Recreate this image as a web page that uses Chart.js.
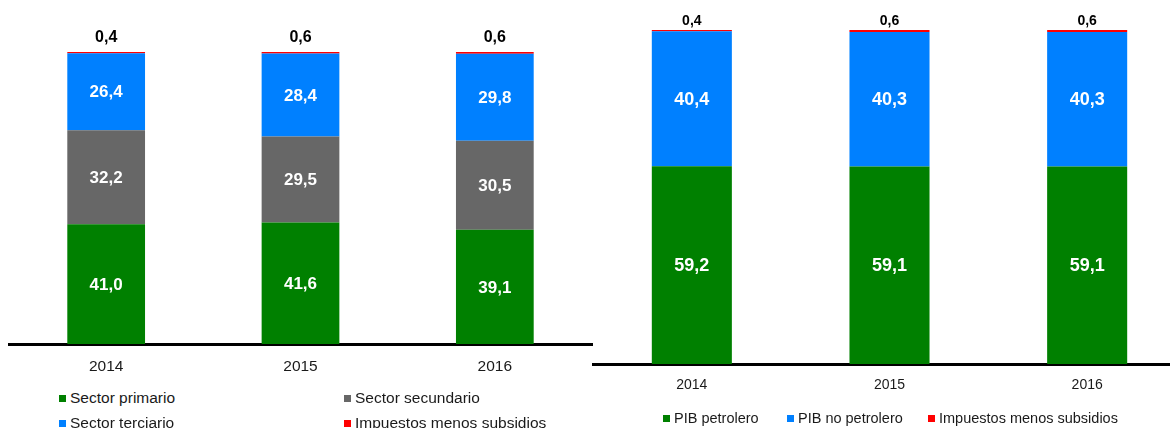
<!DOCTYPE html>
<html><head><meta charset="utf-8">
<script src="https://cdn.jsdelivr.net/npm/chart.js@4.4.1/dist/chart.umd.min.js"></script>
<style>
html,body{margin:0;padding:0;background:#fff;width:1170px;height:428px;overflow:hidden;position:relative;font-family:"Liberation Sans",Arial,sans-serif;}
.box{position:absolute;}
.leg{position:absolute;white-space:nowrap;color:#1a1a1a;line-height:1;}
.leg i{position:absolute;width:7px;height:7px;display:block;}
</style></head><body>
<div class="box" style="left:0;top:0;width:600px;height:380px"><canvas id="c1"></canvas></div>
<div class="box" style="left:585px;top:0;width:610px;height:400px"><canvas id="c2"></canvas></div>
<div id="legs"></div>
<script>
// ---- data ----
const years = ['2014', '2015', '2016'];
const primario = [41.0, 41.6, 39.1];
const secundario = [32.2, 29.5, 30.5];
const terciario = [26.4, 28.4, 29.8];
const impuestosA = [0.4, 0.6, 0.6];
const petrolero = [59.2, 59.1, 59.1];
const noPetrolero = [40.4, 40.3, 40.3];
const impuestosB = [0.4, 0.6, 0.6];
const legendA = ['Sector primario', 'Sector secundario', 'Sector terciario', 'Impuestos menos subsidios'];
const legendB = ['PIB petrolero', 'PIB no petrolero', 'Impuestos menos subsidios'];

const GREEN = '#008000', GRAY = '#676767', BLUE = '#0080FF', RED = '#FF0000';
const FONT = '"Liberation Sans", Arial, sans-serif';

const labelPlugin = {
  id: 'vals',
  afterDatasetsDraw(chart, args, opts) {
    const ctx = chart.ctx;
    const n = chart.data.datasets.length;
    chart.data.datasets.forEach((ds, di) => {
      const meta = chart.getDatasetMeta(di);
      meta.data.forEach((el, i) => {
        const txt = Number(ds.data[i]).toFixed(1).replace('.', ',');
        ctx.save();
        ctx.textAlign = 'center';
        ctx.textBaseline = 'middle';
        if (di === n - 1) {
          ctx.font = opts.topFont; ctx.fillStyle = '#000';
          ctx.fillText(txt, el.x, el.y - opts.topOffset);
        } else {
          ctx.font = opts.inFont; ctx.fillStyle = '#fff';
          ctx.fillText(txt, el.x, (el.y + el.base) / 2 + 1);
        }
        ctx.restore();
      });
    });
  }
};

function makeChart(id, sets, colors, cfg) {
  return new Chart(document.getElementById(id), {
    type: 'bar',
    data: {
      labels: years,
      datasets: sets.map((d, k) => ({
        data: d, backgroundColor: colors[k], borderWidth: 0,
        barPercentage: cfg.barPct, categoryPercentage: 1
      }))
    },
    options: {
      responsive: true, maintainAspectRatio: false, animation: false,
      layout: { padding: cfg.padding },
      plugins: {
        legend: { display: false }, tooltip: { enabled: false },
        vals: { topFont: cfg.topFont, inFont: cfg.inFont, topOffset: cfg.topOffset }
      },
      scales: {
        x: {
          stacked: true,
          grid: { display: false, drawTicks: false },
          border: { display: true, color: '#000', width: 3 },
          ticks: { color: '#1a1a1a', padding: cfg.tickPad, font: { family: FONT, size: cfg.tickSize } },
          afterFit(scale) { scale.height = cfg.axisH; }
        },
        y: { stacked: true, display: false, min: 0, max: 100 }
      }
    },
    plugins: [labelPlugin]
  });
}

makeChart('c1', [primario, secundario, terciario, impuestosA], [GREEN, GRAY, BLUE, RED], {
  barPct: 0.40, padding: { left: 9, right: 8, top: 52, bottom: 0 }, axisH: 36,
  tickPad: 13, tickSize: 15.5,
  topFont: 'bold 16px ' + FONT, inFont: 'bold 17px ' + FONT, topOffset: 14
});
makeChart('c2', [petrolero, noPetrolero, impuestosB], [GREEN, BLUE, RED], {
  barPct: 0.405, padding: { left: 8, right: 9, top: 30, bottom: 0 }, axisH: 36,
  tickPad: 13, tickSize: 14,
  topFont: 'bold 14px ' + FONT, inFont: 'bold 18px ' + FONT, topOffset: 9
});

// ---- HTML legends ----
const legs = document.getElementById('legs');
function addLeg(text, color, x, cy, size) {
  const d = document.createElement('div');
  d.className = 'leg';
  d.style.left = (x + 11) + 'px';
  d.style.top = (cy - size * 0.5) + 'px';
  d.style.fontSize = size + 'px';
  d.textContent = text;
  const m = document.createElement('i');
  m.style.background = color;
  m.style.left = '-11px';
  m.style.top = (size * 0.5 - 3.5) + 'px';
  d.appendChild(m);
  legs.appendChild(d);
}
const colsA = [GREEN, GRAY, BLUE, RED];
const posA = [[59, 398], [344, 398], [59, 423], [344, 423]];
legendA.forEach((t, k) => addLeg(t, colsA[k], posA[k][0], posA[k][1], 15.5));
const colsB = [GREEN, BLUE, RED];
const posB = [[663, 418], [787, 418], [928, 418]];
legendB.forEach((t, k) => addLeg(t, colsB[k], posB[k][0], posB[k][1], 14.5));
</script>
</body></html>
